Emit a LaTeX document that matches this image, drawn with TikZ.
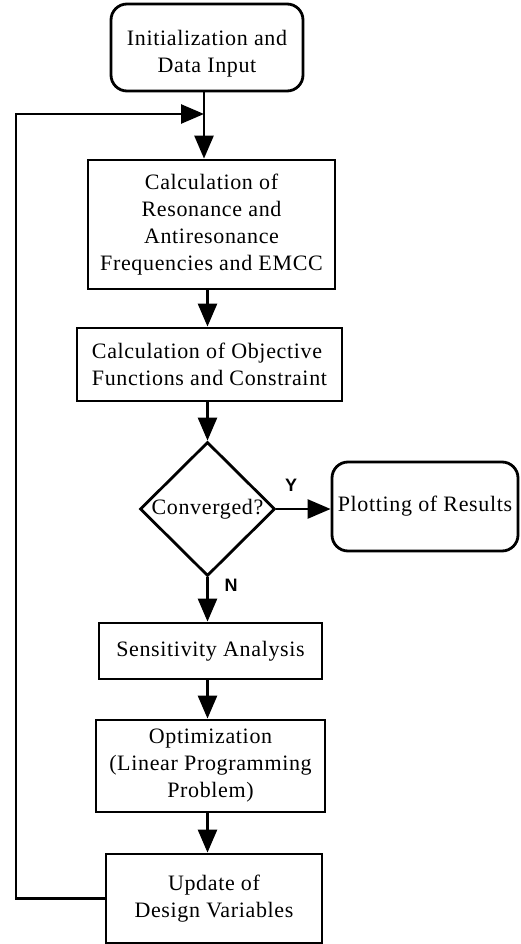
\documentclass[tikz,border=0pt]{standalone}
\usepackage{fontspec}
\setmainfont{Liberation Serif}[LetterSpace=3]
\newfontfamily\lblfont{Liberation Sans}
\usetikzlibrary{shapes.geometric,arrows.meta}
\begin{document}
\begin{tikzpicture}[x=1pt,y=-1pt,
 box/.style={draw, line width=2.8pt, align=center, inner sep=0pt, font=\fontsize{22}{27}\selectfont},
 rbox/.style={box, rounded corners=16pt},
 dec/.style={draw, diamond, line width=2.8pt, inner sep=0pt, aspect=1},
 txt/.style={align=center, inner sep=0pt, font=\fontsize{22}{27}\selectfont},
 lbl/.style={inner sep=0pt, font=\lblfont\bfseries\fontsize{18}{20}\selectfont},
 flow/.style={line width=2.6pt, -{Triangle[length=23pt,width=19pt]}},
 plain/.style={line width=2.6pt}]
\useasboundingbox (0,0) rectangle (520,944);

\node[rbox, minimum width=192pt, minimum height=87pt] (init) at (207,47.5) {};
\node[txt] (initt) at (207,53.5) {Initialization and\\Data Input};
\coordinate (j) at (204,114);
\coordinate (fb) at (16,114);
\node[box, minimum width=247pt, minimum height=129pt] (calc1) at (211.5,224.5) {Calculation of\\Resonance and\\Antiresonance\\Frequencies and EMCC};
\node[box, align=left, minimum width=265pt, minimum height=73pt] (calc2) at (209.5,364.5) {Calculation of Objective\\Functions and Constraint};
\node[dec, minimum width=135pt, minimum height=134pt] (conv) at (207.5,509) {};
\node[txt] (convt) at (207.5,509) {Converged?};
\node[rbox, align=left, minimum width=186pt, minimum height=89pt] (plot) at (425,506.5) {Plotting of Results};
\node[box, minimum width=223pt, minimum height=56pt] (sens) at (210.5,651) {Sensitivity Analysis};
\node[box, minimum width=229pt, minimum height=92pt] (opt) at (210.5,766) {Optimization\\(Linear Programming\\Problem)};
\node[box, minimum width=216pt, minimum height=89pt] (upd) at (214,898.5) {Update of\\Design Variables};

\node[lbl] (ylab) at (291,485) {Y};
\node[lbl] (nlab) at (231,585) {N};

\draw[plain] (init.south -| j) -- (j);
\draw[flow] (j) -- (j |- calc1.north);
\draw[flow] (upd.west) -| (fb) -- (j);
\draw[flow] (calc1.south -| conv) -- (calc2.north -| conv);
\draw[flow] (calc2.south -| conv) -- (conv.north);
\draw[flow] (conv.east) -- (conv.east -| plot.west);
\draw[flow] (conv.south) -- (conv.south |- sens.north);
\draw[flow] (sens.south -| conv) -- (opt.north -| conv);
\draw[flow] (opt.south -| conv) -- (upd.north -| conv);
\end{tikzpicture}
\end{document}
